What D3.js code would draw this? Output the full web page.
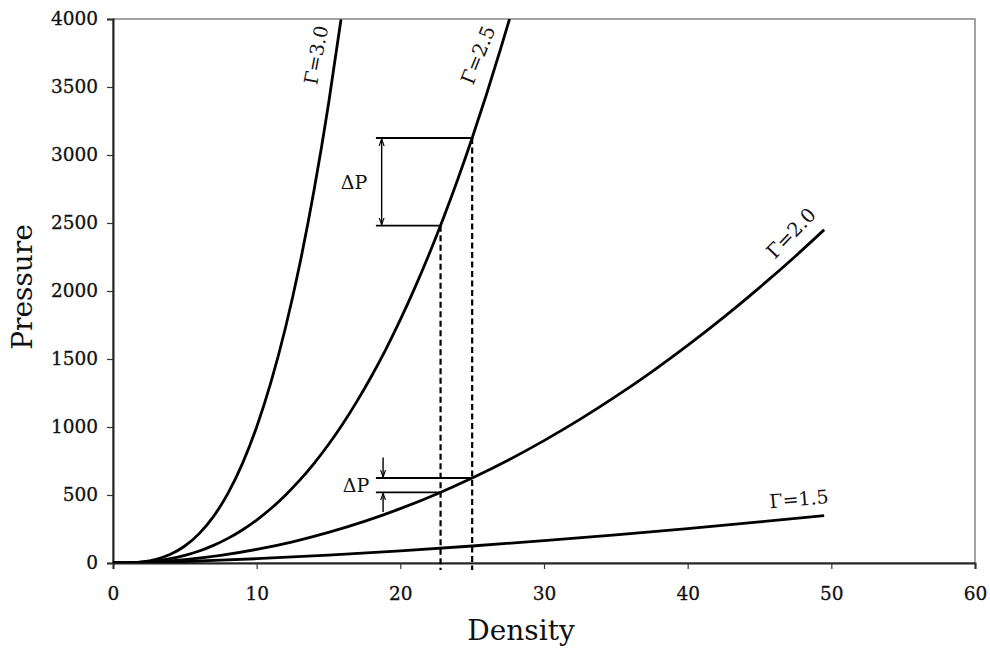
<!DOCTYPE html>
<html>
<head>
<meta charset="utf-8">
<script src="https://cdn.jsdelivr.net/npm/d3@7/dist/d3.min.js"></script>
<style>
  html, body { margin: 0; padding: 0; background: #fff; }
  svg { display: block; }
  text { font-family: "DejaVu Serif", "Liberation Serif", serif; fill: #111; }
</style>
</head>
<body>
<svg id="chart" width="990" height="649"></svg>
<script>
// Pressure vs density for polytropic curves P = rho^Gamma
const seriesNames = ["Γ=3.0", "Γ=2.5", "Γ=2.0", "Γ=1.5"];

const gamma30 = [[0,0],[1,1],[2,8],[3,27],[4,64],[5,125],[6,216],[7,343],[8,512],[9,729],
  [10,1000],[11,1331],[12,1728],[13,2197],[14,2744],[15,3375],[15.87,3997]];

const gamma25 = [[0,0],[1,1],[2,5.7],[3,15.6],[4,32],[5,55.9],[6,88.2],[7,129.6],[8,181],
  [9,243],[10,316],[11,401],[12,499],[13,609],[14,733],[15,871],[16,1024],[17,1192],
  [18,1375],[19,1573],[20,1789],[21,2021],[22,2270],[23,2537],[24,2822],[25,3125],
  [26,3447],[27,3788],[27.6,4000]];

const gamma20 = [[0,0],[2.5,6.25],[5,25],[7.5,56],[10,100],[12.5,156],[15,225],[17.5,306],
  [20,400],[22.5,506],[25,625],[27.5,756],[30,900],[32.5,1056],[35,1225],[37.5,1406],
  [40,1600],[42.5,1806],[45,2025],[47.5,2256],[49.5,2450]];

const gamma15 = [[0,0],[2.5,4],[5,11.2],[7.5,20.5],[10,31.6],[15,58.1],[20,89.4],[25,125],
  [30,164],[35,207],[40,253],[45,302],[49.5,348]];

// Two densities compared, and the pressures they give on the Γ=2.5 and Γ=2.0 curves
const markDensity = [22.8, 25];
const markP25 = [2480, 3125];
const markP20 = [520, 625];

const xTicks = [0, 10, 20, 30, 40, 50, 60];
const yTicks = [0, 500, 1000, 1500, 2000, 2500, 3000, 3500, 4000];

const svg = d3.select("#chart");
const m = { left: 113, right: 975, top: 19, bottom: 563 };

const x = d3.scaleLinear().domain([0, 60]).range([m.left, m.right]);
const y = d3.scaleLinear().domain([0, 4000]).range([m.bottom, m.top]);

// frame
svg.append("rect")
  .attr("x", m.left).attr("y", m.top)
  .attr("width", m.right - m.left).attr("height", m.bottom - m.top)
  .attr("fill", "none").attr("stroke", "#666").attr("stroke-width", 1.2);

const xAxis = svg.append("g")
  .attr("transform", `translate(0,${m.bottom})`)
  .call(d3.axisBottom(x).tickValues(xTicks).tickSize(6).tickPadding(18).tickFormat(d3.format("d")));
const yAxis = svg.append("g")
  .attr("transform", `translate(${m.left},0)`)
  .call(d3.axisLeft(y).tickValues(yTicks).tickSize(6).tickPadding(9).tickFormat(d3.format("d")));

[xAxis, yAxis].forEach(g => {
  g.select(".domain").attr("stroke", "#222").attr("stroke-width", 2);
  g.selectAll(".tick line").attr("stroke", "#333").attr("stroke-width", 1.2);
  g.selectAll(".tick text").attr("font-family", "DejaVu Serif").attr("font-size", 18.5)
    .attr("fill", "#111").attr("stroke", "#111").attr("stroke-width", 0.3);
});

// axis titles
svg.append("text")
  .attr("x", 521).attr("y", 640)
  .attr("text-anchor", "middle").attr("font-size", 28)
  .text("Density");
svg.append("text")
  .attr("transform", "translate(32,287) rotate(-90)")
  .attr("text-anchor", "middle").attr("font-size", 28)
  .text("Pressure");

// curves
const line = d3.line().x(d => x(d[0])).y(d => y(d[1])).curve(d3.curveMonotoneX);
svg.append("clipPath").attr("id", "plotClip")
  .append("rect").attr("x", m.left).attr("y", m.top)
  .attr("width", m.right - m.left).attr("height", m.bottom - m.top);

const curves = [gamma30, gamma25, gamma20, gamma15];
svg.append("g").attr("clip-path", "url(#plotClip)")
  .selectAll("path").data(curves).join("path")
  .attr("d", line)
  .attr("fill", "none").attr("stroke", "#000").attr("stroke-width", 2.8)
  .attr("stroke-linejoin", "round");

// curve labels
const labelSpec = [
  { text: seriesNames[0], px: 316, py: 55, angle: -79, size: 19, italic: true },
  { text: seriesNames[1], px: 478, py: 55, angle: -68, size: 19.5, italic: true },
  { text: seriesNames[2], px: 791, py: 233, angle: -46, size: 19.5, italic: false },
  { text: seriesNames[3], px: 799, py: 499, angle: -5, size: 19, italic: false }
];
svg.append("g").selectAll("text").data(labelSpec).join("text")
  .attr("transform", d => `translate(${d.px},${d.py}) rotate(${d.angle})`)
  .attr("text-anchor", "middle").attr("dy", "0.35em")
  .attr("font-size", d => d.size)
  .text(d => d.text);

// arrowheads
const defs = svg.append("defs");
defs.append("marker").attr("id", "arrow")
  .attr("viewBox", "0 0 10 10").attr("refX", 10).attr("refY", 5)
  .attr("markerWidth", 7).attr("markerHeight", 7)
  .attr("markerUnits", "userSpaceOnUse")
  .attr("orient", "auto-start-reverse")
  .append("path").attr("d", "M0,1.5 L10,5 L0,8.5").attr("fill", "none")
  .attr("stroke", "#000").attr("stroke-width", 1.6);

const ann = svg.append("g");

// dashed verticals from each curve point down to the axis
markDensity.forEach((dens, i) => {
  ann.append("line")
    .attr("x1", x(dens)).attr("x2", x(dens))
    .attr("y1", y(markP25[i])).attr("y2", m.bottom + 7)
    .attr("stroke", "#000").attr("stroke-width", 2.2).attr("stroke-dasharray", "6,3.5");
});

// horizontal reference lines
const hStart = 18.3;
[markP25, markP20].forEach(ps => {
  ps.forEach((p, i) => {
    ann.append("line")
      .attr("x1", x(hStart)).attr("x2", x(markDensity[i]))
      .attr("y1", y(p)).attr("y2", y(p))
      .attr("stroke", "#000").attr("stroke-width", 1.8);
  });
});

// ΔP on the Γ=2.5 curve: double-headed arrow
ann.append("line")
  .attr("x1", x(18.7)).attr("x2", x(18.7))
  .attr("y1", y(markP25[0]) - 1).attr("y2", y(markP25[1]) + 1)
  .attr("stroke", "#000").attr("stroke-width", 1.4)
  .attr("marker-start", "url(#arrow)").attr("marker-end", "url(#arrow)");
ann.append("text")
  .attr("x", 354).attr("y", y((markP25[0] + markP25[1]) / 2) + 7)
  .attr("text-anchor", "middle").attr("font-size", 19)
  .text("ΔP");

// ΔP on the Γ=2.0 curve: arrows pointing in from outside
ann.append("line")
  .attr("x1", x(18.8)).attr("x2", x(18.8))
  .attr("y1", y(775)).attr("y2", y(markP20[1]) - 1)
  .attr("stroke", "#000").attr("stroke-width", 1.4)
  .attr("marker-end", "url(#arrow)");
ann.append("line")
  .attr("x1", x(18.8)).attr("x2", x(18.8))
  .attr("y1", y(375)).attr("y2", y(markP20[0]) + 1)
  .attr("stroke", "#000").attr("stroke-width", 1.4)
  .attr("marker-end", "url(#arrow)");
ann.append("text")
  .attr("x", 356).attr("y", y((markP20[0] + markP20[1]) / 2) + 7)
  .attr("text-anchor", "middle").attr("font-size", 19)
  .text("ΔP");
</script>
</body>
</html>
